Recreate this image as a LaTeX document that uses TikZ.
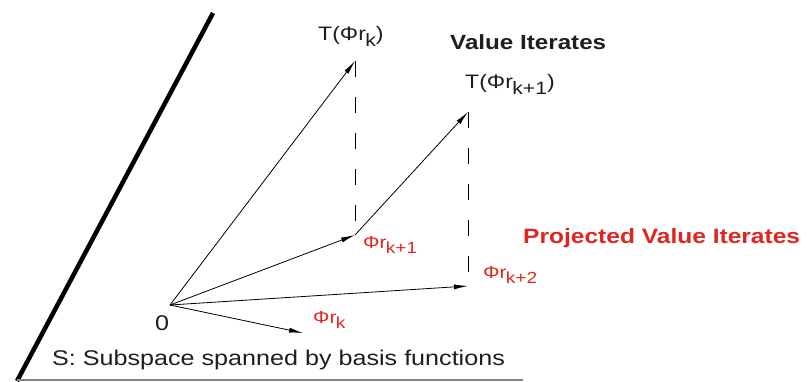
\documentclass[tikz,border=0pt]{standalone}
\usepackage{fontspec}
\setmainfont{Liberation Sans}
\usetikzlibrary{arrows.meta}
\definecolor{redlab}{RGB}{222,38,30}
\definecolor{ink}{RGB}{30,30,30}
\definecolor{baseg}{RGB}{130,130,130}
\newcommand{\widetxt}[1]{\scalebox{1.18}[1]{#1}}
\newcommand{\lowsub}[1]{\kern-0.5pt\raisebox{-0.32em}{\fontsize{0.92em}{1em}\selectfont #1}}
\begin{document}
\begin{tikzpicture}[x=1pt,y=-1pt,
  lab/.style={inner sep=0pt, anchor=base west, text=ink},
  big/.style={lab, font=\fontsize{21.3}{24}\selectfont},
  bigb/.style={lab, font=\fontsize{20.5}{24}\selectfont\bfseries},
  tlab/.style={lab, font=\fontsize{19.5}{22}\selectfont},
  redl/.style={lab, text=redlab, font=\fontsize{17.5}{20}\selectfont},
  redb/.style={bigb, text=redlab, font=\fontsize{20.8}{24}\selectfont\bfseries},
  vec/.style={draw=black, line width=0.8pt, -{Latex[length=14pt,width=5pt]}},
  proj/.style={draw=black, line width=0.8pt, dash pattern=on 16pt off 20pt},
  subsp/.style={draw=black, line width=4.5pt},
  baseln/.style={draw=baseg, line width=1.2pt}]
\useasboundingbox (0,0) rectangle (812,381);
% subspace line and base line
\coordinate (S1) at (213,13);
\coordinate (S2) at (17,381);
\draw[subsp] (S1) -- (S2);
\coordinate (L1) at (17,380);
\coordinate (L2) at (523,380);
\draw[baseln] (L1) -- (L2);
% points
\coordinate (O) at (170,305);
\coordinate (Pk) at (303,333);
\coordinate (Pk1) at (355,235);
\coordinate (Pk2) at (468,286);
\coordinate (Tk) at (355,61);
\coordinate (Tk1) at (468,112);
% projections
\draw[proj] (Tk) -- (Pk1);
\draw[proj] (Tk1) -- (Pk2);
% vectors
\draw[vec] (O) -- (Pk);
\draw[vec] (O) -- (Pk1);
\draw[vec] (O) -- (Pk2);
\draw[vec] (O) -- (Tk);
\draw[vec] (Pk1) -- (Tk1);
% labels
\node[tlab] (tTk) at (318,40) {\widetxt{T(Φr\lowsub{k})}};
\node[bigb] (tVI) at (450,49) {\widetxt{Value Iterates}};
\node[tlab] (tTk1) at (465,88) {\widetxt{T(Φr\lowsub{k+1})}};
\node[redb] (tPVI) at (523,243) {\widetxt{Projected Value Iterates}};
\node[redl] (tPk1) at (363,248) {\widetxt{Φr\lowsub{k+1}}};
\node[redl] (tPk2) at (483,278) {\widetxt{Φr\lowsub{k+2}}};
\node[redl] (tPk) at (313,323) {\widetxt{Φr\lowsub{k}}};
\node[big] (t0) at (155,330) {\widetxt{0}};
\node[big] (tS) at (52,365) {\widetxt{S: Subspace spanned by basis functions}};
\end{tikzpicture}
\end{document}
